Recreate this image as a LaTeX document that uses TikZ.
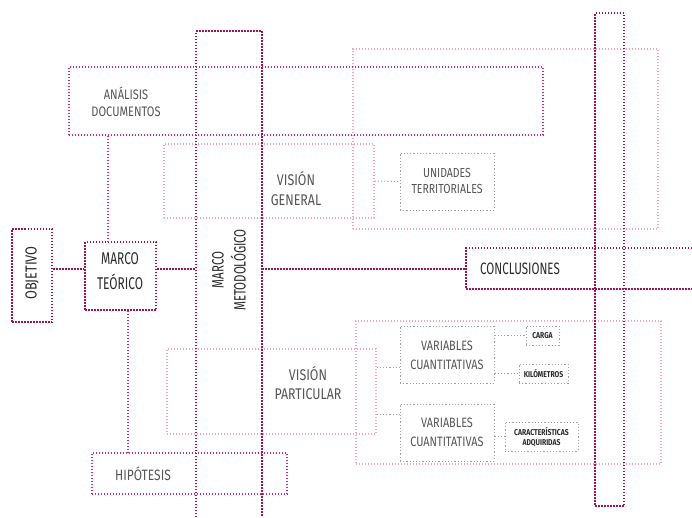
\documentclass[tikz,border=0pt]{standalone}
\usepackage{fontspec}
\setmainfont[FakeStretch=0.8]{Fira Sans}
\newfontfamily\condfont[FakeStretch=0.7]{Fira Sans}
\definecolor{dk}{HTML}{9E1457}
\definecolor{pk}{HTML}{D42A80}
\definecolor{lp}{HTML}{F5A3CB}
\definecolor{gr}{HTML}{A0A0A0}
\definecolor{tx}{HTML}{555555}
\definecolor{txd}{HTML}{2A2A2A}
\tikzset{
  dkline/.style={draw=dk, line width=2.2pt, dash pattern=on 1.5pt off 1.5pt},
  pkline/.style={draw=pk, line width=1.5pt, dash pattern=on 1.3pt off 1.7pt},
  lpline/.style={draw=lp, line width=1.3pt, dash pattern=on 1.3pt off 1.7pt},
  grline/.style={draw=gr, line width=1pt, dash pattern=on 1.2pt off 2pt},
  bx/.style={rectangle, inner sep=0pt},
  lbl/.style={text=tx, align=center, inner sep=0pt},
  lbld/.style={text=txd, align=center, inner sep=0pt},
  lblt/.style={text=txd, align=center, inner sep=0pt, font=\bfseries\fontsize{8.5}{10}\selectfont},
}
\begin{document}
\begin{tikzpicture}[x=1pt,y=-1pt]
\useasboundingbox (0,0) rectangle (692,517);
% light pink boxes
\node[bx, lpline, minimum width=305pt, minimum height=180pt] (bigtop) at (505.5,139) {};
\node[bx, lpline, minimum width=210pt, minimum height=74pt] (visiongen) at (269,181) {};
\node[bx, lpline, minimum width=209pt, minimum height=85pt] (visionpar) at (271.5,391.5) {};
\node[bx, lpline, minimum width=305pt, minimum height=143pt] (bigbot) at (508.5,392.5) {};
% gray boxes
\node[bx, grline, minimum width=94pt, minimum height=57pt] (unidades) at (447,181.5) {};
\node[bx, grline, minimum width=94pt, minimum height=57pt] (vc1) at (447,354.5) {};
\node[bx, grline, minimum width=94pt, minimum height=57pt] (vc2) at (447,432.5) {};
\node[bx, grline, minimum width=33pt, minimum height=19pt] (carga) at (542.5,335.5) {};
\node[bx, grline, minimum width=49pt, minimum height=19pt] (kilo) at (543.5,373.5) {};
\node[bx, grline, minimum width=73pt, minimum height=29pt] (caract) at (541.5,436.5) {};
% gray connectors
\draw[grline] (visiongen.east) -- (unidades.west);
\coordinate (vc1in) at ([yshift=-12.5pt]vc1.west);
\coordinate (vc2in) at ([yshift=18.5pt]vc2.west);
\draw[grline] (visionpar.east |- vc1in) -- (vc1in);
\draw[grline] (visionpar.east |- vc2in) -- (vc2in);
\draw[grline] (vc1.east |- carga.west) -- (carga.west);
\draw[grline] (vc1.east |- kilo.west) -- (kilo.west);
\draw[grline] (vc2.east |- caract.west) -- (caract.west);
% pink boxes
\node[bx, pkline, minimum width=474pt, minimum height=68pt] (analisis) at (306,101) {};
\node[bx, pkline, minimum width=195pt, minimum height=41pt] (hipotesis) at (189.5,473.5) {};
% dark boxes
\node[bx, dkline, minimum width=40pt, minimum height=93pt] (objetivo) at (32,275.5) {};
\node[bx, dkline, minimum width=71pt, minimum height=68pt] (marcoteo) at (120.5,276) {};
\node[bx, dkline, minimum width=29pt, minimum height=493pt] (rightstrip) at (609.5,259.5) {};
\draw[dkline] (196,517) -- (196,31) -- (262,31) -- (262,517);
\coordinate (mmL) at (196,269);
\coordinate (mmR) at (262,269);
\draw[dkline] (692,248) -- (466,248) -- (466,289) -- (692,289);
\coordinate (conL) at (466,269);
% pink connectors
\coordinate (mtTop) at ([xshift=-12.5pt]marcoteo.north);
\coordinate (mtBot) at ([xshift=7.5pt]marcoteo.south);
\draw[pkline] (mtTop |- analisis.south) -- (mtTop);
\draw[pkline] (mtBot) -- (mtBot |- hipotesis.north);
% dark connectors
\draw[dkline] (objetivo.east |- mmL) -- (marcoteo.west |- mmL);
\draw[dkline] (marcoteo.east |- mmL) -- (mmL);
\draw[dkline] (mmR) -- (conL);
% texts
\node[lbl, font=\fontsize{13.8}{17}\selectfont] (tAnalisis) at (126,101.5) {ANÁLISIS\\DOCUMENTOS};
\node[lbl, font=\fontsize{15.5}{20}\selectfont] (tVisionGen) at (296,189) {VISIÓN\\GENERAL};
\node[lbl, font=\fontsize{13.1}{16.5}\selectfont] (tUnidades) at (447,181) {UNIDADES\\TERRITORIALES};
\node[lbld, font=\condfont\fontsize{16.5}{17}\selectfont] (tConcl) at (520,269) {CONCLUSIONES};
\node[lbld, font=\fontsize{16}{20}\selectfont, rotate=90] (tObjetivo) at (32,273) {OBJETIVO};
\node[lbld, font=\condfont\fontsize{17}{25}\selectfont] (tMarcoTeo) at (120,271) {MARCO\\TEÓRICO};
\node[lbld, font=\condfont\fontsize{16.4}{22}\selectfont, rotate=90] (tMarcoMet) at (229,270) {MARCO\\METODOLÓGICO};
\node[lbl, font=\fontsize{15}{18}\selectfont] (tHip) at (143,474) {HIPÓTESIS};
\node[lbl, font=\fontsize{15.5}{19}\selectfont] (tVisionPar) at (308,383.5) {VISIÓN\\PARTICULAR};
\node[lbl, font=\fontsize{13.6}{19}\selectfont] (tVc1) at (447,355.5) {VARIABLES\\CUANTITATIVAS};
\node[lbl, font=\fontsize{13.6}{19}\selectfont] (tVc2) at (447,432.5) {VARIABLES\\CUANTITATIVAS};
\node[lblt] (tCarga) at (542.5,336) {CARGA};
\node[lblt] (tKilo) at (543.5,374) {KILÓMETROS};
\node[lblt] (tCaract) at (541.5,437) {CARACTERÍSTICAS\\ADQUIRIDAS};
\end{tikzpicture}
\end{document}
